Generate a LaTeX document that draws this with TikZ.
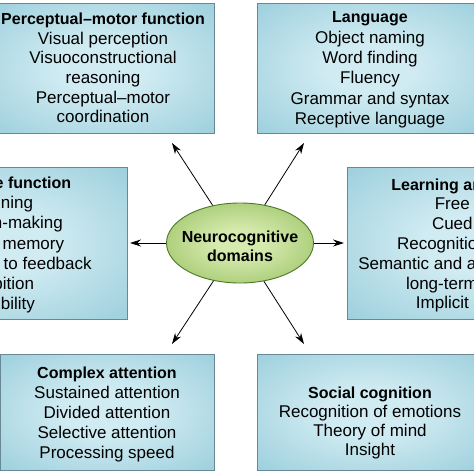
\documentclass[tikz,border=0pt]{standalone}
\usepackage{fontspec}
\setmainfont{Liberation Sans}
\usetikzlibrary{arrows.meta,shapes.geometric}
\definecolor{boxin}{HTML}{D0EBF2}
\definecolor{boxout}{HTML}{80C0D1}
\definecolor{boxline}{HTML}{688893}
\definecolor{ellin}{HTML}{D6EAAE}
\definecolor{ellout}{HTML}{76AA38}
\definecolor{ellline}{HTML}{4A7A26}
\pgfdeclareradialshading{boxshade}{\pgfpoint{0bp}{0bp}}{color(0bp)=(boxin); color(10bp)=(boxin); color(50bp)=(boxout); color(72bp)=(boxout)}
\pgfdeclareradialshading{ellshade}{\pgfpoint{0bp}{0bp}}{color(0bp)=(ellin); color(8bp)=(ellin); color(50bp)=(ellout); color(72bp)=(ellout)}
\newcommand{\hd}[1]{{\fontsize{16}{20}\selectfont\bfseries #1}}
\tikzset{
  domainbox/.style={rectangle, draw=boxline, line width=0.9pt, shading=boxshade, inner sep=0pt},
  domaintext/.style={align=center, inner sep=0pt, text=black},
  centreell/.style={ellipse, draw=ellline, line width=0.9pt, shading=ellshade, inner sep=0pt, minimum width=147pt, minimum height=80pt},
  arr/.style={-{Stealth[length=11pt,width=7pt]}, line width=0.8pt, black}
}
\begin{document}
\begin{tikzpicture}[x=1pt,y=-1pt]
\useasboundingbox (0,0) rectangle (474,474);
\clip (0,0) rectangle (474,474);
\fill[white] (0,0) rectangle (474,474);

% boxes
\node[domainbox, minimum width=222pt, minimum height=130pt] (pmbox) at (103,68) {};
\node[domainbox, minimum width=226pt, minimum height=130pt] (lgbox) at (370,68) {};
\node[domainbox, minimum width=254pt, minimum height=152pt] (efbox) at (0,243) {};
\node[domainbox, minimum width=256pt, minimum height=152pt] (lmbox) at (475,243) {};
\node[domainbox, minimum width=214pt, minimum height=116pt] (cabox) at (107,412) {};
\node[domainbox, minimum width=226pt, minimum height=116pt] (scbox) at (370,412) {};

% texts
\node[domaintext, font=\fontsize{17}{19.6}\selectfont] (pmtext) at (103,68)
  {\hd{Perceptual–motor function}\\Visual perception\\Visuoconstructional\\reasoning\\Perceptual–motor\\coordination};
\node[domaintext, font=\fontsize{17}{20.4}\selectfont] (lgtext) at (370,70)
  {\hd{Language}\\Object naming\\Word finding\\Fluency\\Grammar and syntax\\Receptive language};
\node[domaintext, font=\fontsize{17}{20.3}\selectfont] (eftext) at (0,245)
  {\hd{Executive function}\\Planning\\Decision-making\\Working memory\\Responding to feedback\\Inhibition\\Flexibility};
\node[domaintext, font=\fontsize{17}{19.8}\selectfont] (lmtext) at (475,245.5)
  {\hd{Learning and memory}\\Free recall\\Cued recall\\Recognition memory\\Semantic and autobiographical\\long-term memory\\Implicit learning};
\node[domaintext, font=\fontsize{17}{20}\selectfont] (catext) at (107,414)
  {\hd{Complex attention}\\Sustained attention\\Divided attention\\Selective attention\\Processing speed};
\node[domaintext, font=\fontsize{17}{19.3}\selectfont] (sctext) at (370,423)
  {\hd{Social cognition}\\Recognition of emotions\\Theory of mind\\Insight};

% centre
\node[centreell] (ell) at (240,243) {};
\node[domaintext, font=\fontsize{16}{19}\selectfont\bfseries] (elltext) at (240,246.5) {Neurocognitive\\domains};

% arrow tips
\coordinate (tipTL) at (172,143);
\coordinate (tipTR) at (304,143);
\coordinate (tipL) at (130,243);
\coordinate (tipR) at (344,243);
\coordinate (tipBL) at (172,344);
\coordinate (tipBR) at (304,344);

\draw[arr] (ell.126) -- (tipTL);
\draw[arr] (ell.57) -- (tipTR);
\draw[arr] (ell.west) -- (tipL);
\draw[arr] (ell.east) -- (tipR);
\draw[arr] (ell.-125) -- (tipBL);
\draw[arr] (ell.-58) -- (tipBR);
\end{tikzpicture}
\end{document}
